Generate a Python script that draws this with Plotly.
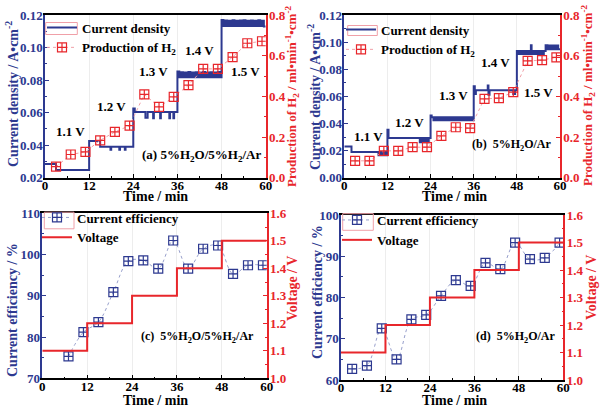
import plotly.graph_objects as go

# ---------------- data ----------------
# (a) 5%H2O/5%H2/Ar current density step record (min, A/cm2)
cd_a_time = [0, 3, 12, 15, 17.8, 18.0, 20.2, 20.4, 21.7, 21.9,
             24, 24.4, 27.3, 27.9, 29.4, 29.6, 31.3, 31.5, 33.8, 34.0, 34.9, 35.1,
             36, 36.5, 37, 37.5, 38, 38.5, 39, 39.5, 40, 40.5, 41, 41.5,
             42, 42.5, 43, 43.5, 44, 44.5, 45, 45.5, 46, 46.5, 47, 47.5,
             48, 48.5, 49, 49.5, 50, 50.5, 51, 51.5, 52, 52.5, 53, 53.5,
             54, 54.5, 55, 55.5, 56, 56.5, 57, 57.5, 58, 58.5, 59, 59.5, 60]
cd_a_val = [0.0284, 0.0247, 0.0426, 0.0390, 0.0372, 0.0390, 0.0372, 0.0390, 0.0372, 0.0390,
            0.0625, 0.0604, 0.0568, 0.0604, 0.0565, 0.0604, 0.0565, 0.0604, 0.0565, 0.0604, 0.0565, 0.0604,
            0.0852, 0.0818, 0.0848, 0.0818, 0.0847, 0.0818, 0.0849, 0.0818, 0.0846, 0.0818, 0.0848, 0.0818,
            0.0847, 0.0818, 0.0849, 0.0818, 0.0846, 0.0818, 0.0848, 0.0818, 0.0847, 0.0818, 0.0849, 0.0818,
            0.1170, 0.1132, 0.1166, 0.1132, 0.1165, 0.1132, 0.1167, 0.1132, 0.1165, 0.1132, 0.1166, 0.1132,
            0.1167, 0.1132, 0.1165, 0.1132, 0.1166, 0.1132, 0.1165, 0.1132, 0.1167, 0.1132, 0.1165, 0.1130, 0.1130]

# (b) 5%H2O/Ar current density step record
cd_b_time = [0, 2, 9.5, 10, 10.5, 11, 11.5,
             12, 12.3, 21, 21.5, 22, 22.5, 23, 23.5,
             24, 24.3, 24.8, 25.3, 25.8, 26.3, 26.8, 27.3, 27.8, 28.3, 28.8, 29.3, 29.8,
             30.3, 30.8, 31.3, 31.8, 32.3, 32.8, 33.3, 33.8, 34.3, 34.8, 35.3, 35.8,
             36, 36.3, 36.6, 37, 39.9, 40.1, 40.4, 47, 47.5,
             48, 48.5, 49, 49.5, 50, 50.5, 51, 51.5, 51.9, 52.1, 52.5, 53, 53.5, 54, 54.5, 55, 55.5,
             56, 56.5, 57, 57.5, 58, 58.5, 59, 59.5, 60]
cd_b_val = [0.0230, 0.0190, 0.0166, 0.0190, 0.0166, 0.0190, 0.0166,
            0.0354, 0.0292, 0.0262, 0.0292, 0.0262, 0.0292, 0.0262, 0.0292,
            0.0458, 0.0445, 0.0423, 0.0445, 0.0423, 0.0445, 0.0423, 0.0445, 0.0423, 0.0445, 0.0423, 0.0445, 0.0423,
            0.0445, 0.0423, 0.0445, 0.0423, 0.0445, 0.0423, 0.0445, 0.0423, 0.0445, 0.0423, 0.0445, 0.0423,
            0.0675, 0.0618, 0.0645, 0.0645, 0.0680, 0.0612, 0.0645, 0.0618, 0.0645,
            0.0935, 0.0912, 0.0935, 0.0912, 0.0935, 0.0912, 0.0935, 0.0912, 0.0977, 0.0912, 0.0935, 0.0912, 0.0935, 0.0912, 0.0935, 0.0912, 0.0935,
            0.0977, 0.0948, 0.0975, 0.0948, 0.0975, 0.0948, 0.0975, 0.0948, 0.0948]

# hydrogen production (ml/min/cm2)
h2_time = [3, 7, 11, 15, 19, 23, 27, 31, 35, 39, 43, 47, 51, 55, 59]
h2_a = [0.054, 0.114, 0.127, 0.184, 0.225, 0.256, 0.410, 0.348, 0.397, 0.455, 0.535, 0.535, 0.593, 0.661, 0.671]
h2_b = [0.083, 0.083, 0.132, 0.132, 0.150, 0.150, 0.206, 0.248, 0.244, 0.388, 0.391, 0.421, 0.574, 0.578, 0.592]

# current efficiency (%)
ce_c_time = [7, 11, 15, 19, 23, 27, 31, 35, 39, 43, 47, 51, 55, 59]
ce_c = [75.3, 81.2, 83.6, 90.9, 98.4, 98.6, 96.6, 103.4, 96.6, 101.4, 102.2, 95.3, 97.4, 97.4]
ce_d_time = [3, 7, 11, 15, 19, 23, 27, 31, 35, 39, 43, 47, 51, 55, 59]
ce_d = [62.7, 63.5, 72.5, 65.0, 74.7, 75.8, 80.4, 84.2, 82.8, 88.4, 86.9, 93.3, 89.3, 89.6, 93.3]

# applied voltage (V)
volt_time = [0, 12, 24, 36, 48, 60]
volt_val = [1.1, 1.2, 1.3, 1.4, 1.5, 1.5]
step_labels = ["1.1 V", "1.2 V", "1.3 V", "1.4 V", "1.5 V"]

# ---------------- style ----------------
FONT = "Liberation Serif"
NAVY = "#2d3990"
RED = "#e8262b"
PINK = "#f0a0a8"
W, H = 600, 408


def px(x):
    return x / W


def py(y):
    return 1 - y / H


def bold(size, color):
    return dict(family=FONT, size=size, color=color, weight="bold")


fig = go.Figure()

# (a)
fig.add_trace(go.Scatter(x=cd_a_time, y=cd_a_val, mode="lines", name="Current density",
                         line=dict(color=NAVY, width=2, shape="hv"), xaxis="x", yaxis="y", legend="legend"))
fig.add_trace(go.Scatter(x=h2_time, y=h2_a, mode="lines+markers", name="Production of H<sub>2</sub>",
                         line=dict(color=PINK, width=1, dash="dot"),
                         marker=dict(symbol="square-cross-open", size=9, color=RED, line=dict(width=1.2)),
                         xaxis="x", yaxis="y2", legend="legend"))
# (b)
fig.add_trace(go.Scatter(x=cd_b_time, y=cd_b_val, mode="lines", name="Current density",
                         line=dict(color=NAVY, width=2, shape="hv"), xaxis="x2", yaxis="y3", legend="legend2"))
fig.add_trace(go.Scatter(x=h2_time, y=h2_b, mode="lines+markers", name="Production of H<sub>2</sub>",
                         line=dict(color=PINK, width=1, dash="dot"),
                         marker=dict(symbol="square-cross-open", size=9, color=RED, line=dict(width=1.2)),
                         xaxis="x2", yaxis="y4", legend="legend2"))
# (c)
fig.add_trace(go.Scatter(x=ce_c_time, y=ce_c, mode="lines+markers", name="Current efficiency",
                         line=dict(color="#98a0cc", width=1, dash="dot", shape="spline"),
                         marker=dict(symbol="square-cross-open", size=9, color=NAVY, line=dict(width=1.2)),
                         xaxis="x3", yaxis="y5", legend="legend3"))
fig.add_trace(go.Scatter(x=volt_time, y=volt_val, mode="lines", name="Voltage",
                         line=dict(color=RED, width=2, shape="hv"), xaxis="x3", yaxis="y6", legend="legend3"))
# (d)
fig.add_trace(go.Scatter(x=ce_d_time, y=ce_d, mode="lines+markers", name="Current efficiency",
                         line=dict(color="#98a0cc", width=1, dash="dot", shape="spline"),
                         marker=dict(symbol="square-cross-open", size=9, color=NAVY, line=dict(width=1.2)),
                         xaxis="x4", yaxis="y7", legend="legend4"))
fig.add_trace(go.Scatter(x=volt_time, y=volt_val, mode="lines", name="Voltage",
                         line=dict(color=RED, width=2, shape="hv"), xaxis="x4", yaxis="y8", legend="legend4"))


def xax(dom, anchor):
    return dict(domain=dom, anchor=anchor, range=[0, 60], dtick=12, tick0=0,
                ticks="inside", ticklen=4, tickwidth=1, tickcolor="black",
                minor=dict(ticks="inside", ticklen=2, dtick=6, tickcolor="black", showgrid=False),
                showline=True, linecolor="black", linewidth=1.5, mirror=True,
                showgrid=True, gridcolor="#ededed", gridwidth=1, zeroline=False,
                tickfont=bold(13, "black"), ticklabelstandoff=-5, automargin=False)


def yleft(dom, anchor, rng, dt, fmt, mdt):
    return dict(domain=dom, anchor=anchor, range=rng, dtick=dt, tick0=rng[0], tickformat=fmt,
                ticks="inside", ticklen=4, tickwidth=1, tickcolor=NAVY,
                minor=dict(ticks="inside", ticklen=2, dtick=mdt, tickcolor=NAVY, showgrid=False),
                showline=True, linecolor=NAVY, linewidth=1.5, showgrid=False, zeroline=False,
                tickfont=bold(13, NAVY), ticklabelstandoff=-2, automargin=False)


def yright(over, anchor, rng, dt, fmt, mdt):
    return dict(overlaying=over, anchor=anchor, side="right", range=rng, dtick=dt, tick0=rng[0],
                tickformat=fmt, ticks="inside", ticklen=4, tickwidth=1, tickcolor=RED,
                minor=dict(ticks="inside", ticklen=2, dtick=mdt, tickcolor=RED, showgrid=False),
                showline=True, linecolor=RED, linewidth=1.5, showgrid=False, zeroline=False,
                tickfont=bold(13, RED), ticklabelstandoff=-1, automargin=False)


dom_a_x = [px(45), px(265.7)]
dom_b_x = [px(344.3), px(560)]
dom_c_x = [px(42.3), px(266.7)]
dom_d_x = [px(341), px(563.3)]
dom_top_y = [py(177.7), py(15)]
dom_c_y = [py(378.3), py(213.3)]
dom_d_y = [py(380), py(215)]


def leg(x, y):
    return dict(x=px(x), y=py(y), xanchor="left", yanchor="top", bgcolor="rgba(0,0,0,0)",
                font=bold(13, "black"), tracegroupgap=0, itemwidth=30)


fig.update_layout(
    width=W, height=H, margin=dict(l=0, r=0, t=0, b=0),
    paper_bgcolor="white", plot_bgcolor="white",
    font=dict(family=FONT),
    xaxis=xax(dom_a_x, "y"),
    yaxis=yleft(dom_top_y, "x", [0.02, 0.12], 0.02, ".2f", 0.01),
    yaxis2=yright("y", "x", [0, 0.8], 0.2, ".1f", 0.1),
    xaxis2=xax(dom_b_x, "y3"),
    yaxis3=yleft(dom_top_y, "x2", [0, 0.12], 0.02, ".2f", 0.01),
    yaxis4=yright("y3", "x2", [0, 0.8], 0.2, ".1f", 0.1),
    xaxis3=xax(dom_c_x, "y5"),
    yaxis5=yleft(dom_c_y, "x3", [70, 110], 10, "d", 5),
    yaxis6=yright("y5", "x3", [1.0, 1.6], 0.1, ".1f", 0.05),
    xaxis4=xax(dom_d_x, "y7"),
    yaxis7=yleft(dom_d_y, "x4", [60, 100], 10, "d", 5),
    yaxis8=yright("y7", "x4", [1.0, 1.6], 0.1, ".1f", 0.05),
    legend=leg(42, 12.5),
    legend2=leg(341, 14.5),
    legend3=leg(37, 202.5),
    legend4=leg(337, 205),
    showlegend=True,
)

ann = []


def text(x, y, t, size=13, color="black", angle=0):
    ann.append(dict(x=px(x), y=py(y), xref="paper", yref="paper", text=t, showarrow=False,
                    font=bold(size, color), textangle=angle, xanchor="center", yanchor="middle"))


# step voltage labels
for lab, (xa, ya) in zip(step_labels, [(70, 132), (111, 107), (153, 71), (199, 50), (246, 71)]):
    text(xa, ya, lab)
for lab, (xa, ya) in zip(step_labels, [(368, 137), (409, 122), (453, 95), (495, 62), (538, 93)]):
    text(xa, ya, lab)

text(201, 155, "(a) 5%H<sub>2</sub>O/5%H<sub>2</sub>/Ar", 13)
text(512, 145, "(b)  5%H<sub>2</sub>O/Ar", 12)
text(197, 337, "(c)  5%H<sub>2</sub>O/5%H<sub>2</sub>/Ar", 12)
text(516, 337, "(d)  5%H<sub>2</sub>O/Ar", 12)

# axis titles
text(155, 196, "Time / min", 14)
text(454, 196, "Time / min", 14)
text(155, 400.5, "Time / min", 14)
text(454, 400.5, "Time / min", 14)
text(12, 94, "Current density / A•cm<sup>-2</sup>", 14, NAVY, -90)
text(314, 97, "Current density / A•cm<sup>-2</sup>", 14, NAVY, -90)
text(292, 97, "Production of H<sub>2</sub> / ml•min<sup>-1</sup>•cm<sup>-2</sup>", 13, RED, -90)
text(588, 96, "Production of H<sub>2</sub> / ml•min<sup>-1</sup>•cm<sup>-2</sup>", 13, RED, -90)
text(12, 310, "Current efficiency / %", 14, NAVY, -90)
text(317, 292, "Current efficiency / %", 14, NAVY, -90)
text(292, 289, "Voltage / V", 14, RED, -90)
text(591, 288, "Voltage / V", 14, RED, -90)

fig.update_layout(annotations=ann)

# pink frames around the first legend sample (as in the original legend)
shapes = []
for (x0, y0, x1, y1) in [(45.7, 22.5, 77.3, 34.5), (347.7, 25.5, 377.3, 35.5),
                         (44.3, 212.2, 74, 228.8), (342.7, 213.7, 373.3, 230.3)]:
    shapes.append(dict(type="rect", xref="paper", yref="paper", x0=px(x0), x1=px(x1), y0=py(y1), y1=py(y0),
                       line=dict(color=PINK, width=1), fillcolor="rgba(0,0,0,0)"))
fig.update_layout(shapes=shapes)

fig.write_html("out.html", config={"displayModeBar": False},
               post_script="document.body.style.margin='0';document.body.style.overflow='hidden';")
